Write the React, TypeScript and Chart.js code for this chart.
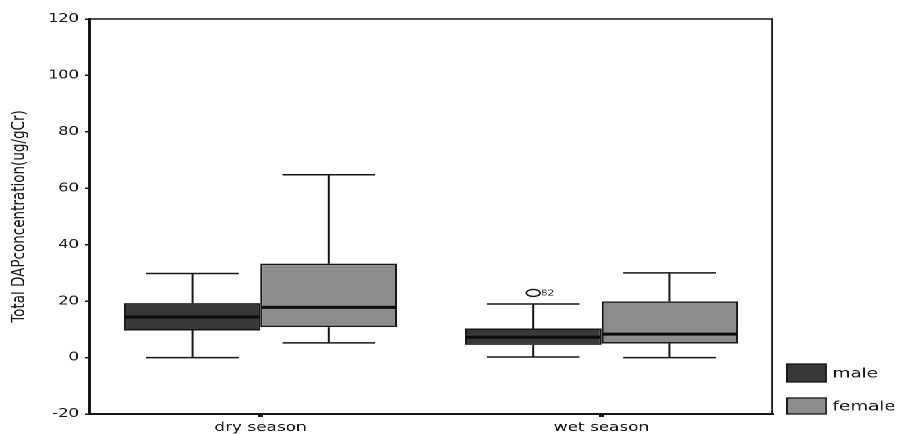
import { useEffect, useRef } from 'react';
import { Chart, registerables } from 'chart.js';

Chart.register(...registerables);

// Groups on the x axis
const categories = ['dry season', 'wet season'];

// Five-number summaries, one value per group
const maleMin = [0, 0.2];
const maleQ1 = [9.6, 4.5];
const maleMedian = [14.4, 7.2];
const maleQ3 = [19.3, 10.3];
const maleMax = [29.8, 19];

const femaleMin = [5.2, 0];
const femaleQ1 = [10.8, 5];
const femaleMedian = [17.8, 8.3];
const femaleQ3 = [33.3, 19.9];
const femaleMax = [64.8, 30];

// Outlying cases: series index, group index, value, case number
const outlierSeries = [0];
const outlierGroup = [1];
const outlierValues = [22.9];
const outlierLabels = ['82'];

// Value axis
const yMin = -20;
const yMax = 120;
const yStep = 20;

const seriesNames = ['male', 'female'];
const seriesColors = ['#383838', '#8c8c8c'];

// The figure is drawn narrow and widened horizontally, like the printed original
const STRETCH = 1.349;
const CANVAS_W = 665;
const CANVAS_H = 434;
const INK = '#161616';

const summaries = [
  { min: maleMin, med: maleMedian, max: maleMax },
  { min: femaleMin, med: femaleMedian, max: femaleMax },
];

const boxPlotPlugin = {
  id: 'boxPlotExtras',
  beforeDraw(chart: any) {
    const { ctx, width, height } = chart;
    ctx.save();
    ctx.fillStyle = '#ffffff';
    ctx.fillRect(0, 0, width, height);
    ctx.restore();
  },
  afterDatasetsDraw(chart: any) {
    const { ctx } = chart;
    const yScale = chart.scales.y;
    ctx.save();
    chart.data.datasets.forEach((ds: any, di: number) => {
      const meta = chart.getDatasetMeta(di);
      const s = summaries[di];
      meta.data.forEach((bar: any, i: number) => {
        const { x, width } = bar.getProps(['x', 'width'], true);
        const [q1, q3] = ds.data[i];
        const pQ1 = yScale.getPixelForValue(q1);
        const pQ3 = yScale.getPixelForValue(q3);
        const pMin = yScale.getPixelForValue(s.min[i]);
        const pMax = yScale.getPixelForValue(s.max[i]);
        const pMed = yScale.getPixelForValue(s.med[i]);
        const cap = width * 0.34;

        // whiskers and caps
        ctx.strokeStyle = INK;
        ctx.lineWidth = 1.5;
        ctx.beginPath();
        ctx.moveTo(x, pQ3);
        ctx.lineTo(x, pMax);
        ctx.moveTo(x - cap, pMax);
        ctx.lineTo(x + cap, pMax);
        ctx.moveTo(x, pQ1);
        ctx.lineTo(x, pMin);
        ctx.moveTo(x - cap, pMin);
        ctx.lineTo(x + cap, pMin);
        ctx.stroke();

        // median
        ctx.strokeStyle = '#0a0a0a';
        ctx.lineWidth = 3;
        ctx.beginPath();
        ctx.moveTo(x - width / 2 + 0.8, pMed);
        ctx.lineTo(x + width / 2 - 0.8, pMed);
        ctx.stroke();
      });
    });

    // outliers
    outlierValues.forEach((v, k) => {
      const bar = chart.getDatasetMeta(outlierSeries[k]).data[outlierGroup[k]];
      const x = bar.x;
      const y = yScale.getPixelForValue(v);
      ctx.beginPath();
      ctx.ellipse(x, y, 5, 3.5, 0, 0, Math.PI * 2);
      ctx.fillStyle = '#ffffff';
      ctx.fill();
      ctx.strokeStyle = INK;
      ctx.lineWidth = 1.3;
      ctx.stroke();
      ctx.fillStyle = INK;
      ctx.font = '8px "DejaVu Sans"';
      ctx.textAlign = 'left';
      ctx.textBaseline = 'middle';
      ctx.fillText(outlierLabels[k], x + 5.5, y + 0.5);
    });
    ctx.restore();
  },
  afterDraw(chart: any) {
    const { ctx, chartArea } = chart;
    const { left, top, right, bottom } = chartArea;
    ctx.save();
    // top and right frame
    ctx.strokeStyle = INK;
    ctx.lineWidth = 1.4;
    ctx.beginPath();
    ctx.moveTo(left, top);
    ctx.lineTo(right, top);
    ctx.lineTo(right, bottom);
    ctx.stroke();

    // legend in the lower right corner
    const rows = [
      { top: bottom - 50, h: 18 },
      { top: bottom - 16, h: 16 },
    ];
    const sx = right + 11;
    const sw = 29;
    chart.data.datasets.forEach((ds: any, di: number) => {
      const r = rows[di];
      ctx.fillStyle = ds.backgroundColor;
      ctx.fillRect(sx, r.top, sw, r.h);
      ctx.strokeStyle = INK;
      ctx.lineWidth = 1.3;
      ctx.strokeRect(sx, r.top, sw, r.h);
      ctx.fillStyle = INK;
      ctx.font = '13.5px "DejaVu Sans"';
      ctx.textAlign = 'left';
      ctx.textBaseline = 'middle';
      ctx.fillText(ds.label, sx + sw + 5, r.top + r.h / 2 + 1);
    });
    ctx.restore();
  },
};

export default function App() {
  const canvasRef = useRef<HTMLCanvasElement | null>(null);

  useEffect(() => {
    const canvas = canvasRef.current;
    if (!canvas) return;
    const chart = new Chart(canvas, {
      type: 'bar',
      data: {
        labels: categories,
        datasets: [
          {
            label: seriesNames[0],
            data: maleQ1.map((q1, i) => [q1, maleQ3[i]]),
            backgroundColor: seriesColors[0],
            borderColor: INK,
            borderWidth: 1.5,
            borderSkipped: false,
            categoryPercentage: 0.8,
            barPercentage: 1,
          },
          {
            label: seriesNames[1],
            data: femaleQ1.map((q1, i) => [q1, femaleQ3[i]]),
            backgroundColor: seriesColors[1],
            borderColor: INK,
            borderWidth: 1.5,
            borderSkipped: false,
            categoryPercentage: 0.8,
            barPercentage: 1,
          },
        ],
      } as any,
      options: {
        responsive: false,
        animation: false,
        devicePixelRatio: 2,
        layout: { padding: { left: 0, top: 19, right: CANVAS_W - 572.3, bottom: 0 } },
        plugins: {
          legend: { display: false },
          tooltip: { enabled: false },
        },
        scales: {
          x: {
            grid: {
              display: true,
              drawOnChartArea: false,
              drawTicks: true,
              tickLength: 3,
              lineWidth: 3.5,
              color: INK,
              offset: false,
            },
            border: { display: true, color: INK, width: 2 },
            ticks: {
              padding: 3,
              color: INK,
              font: { family: '"DejaVu Sans"', size: 12.5 },
              maxRotation: 0,
            },
            afterFit(scale: any) {
              scale.height = 20;
            },
          },
          y: {
            min: yMin,
            max: yMax,
            grid: {
              display: true,
              drawOnChartArea: false,
              drawTicks: true,
              tickLength: 3.7,
              lineWidth: 1.5,
              color: INK,
            },
            border: { display: true, color: INK, width: 2 },
            ticks: {
              stepSize: yStep,
              padding: 4.5,
              color: INK,
              font: { family: '"DejaVu Sans"', size: 12 },
            },
            title: {
              display: true,
              text: 'Total DAPconcentration(ug/gCr)',
              color: INK,
              font: { family: '"DejaVu Sans"', size: 13.5 },
              padding: { top: 6.5, bottom: 0 },
            },
            afterFit(scale: any) {
              scale.width = 66.7;
            },
          },
        },
      } as any,
      plugins: [boxPlotPlugin],
    });
    return () => chart.destroy();
  }, []);

  return (
    <div
      style={{
        position: 'fixed',
        left: 0,
        top: 0,
        width: CANVAS_W,
        height: CANVAS_H,
        transform: `scaleX(${STRETCH})`,
        transformOrigin: '0 0',
        background: '#ffffff',
      }}
    >
      <canvas
        ref={canvasRef}
        width={CANVAS_W}
        height={CANVAS_H}
        style={{ width: CANVAS_W, height: CANVAS_H, display: 'block' }}
      />
    </div>
  );
}
